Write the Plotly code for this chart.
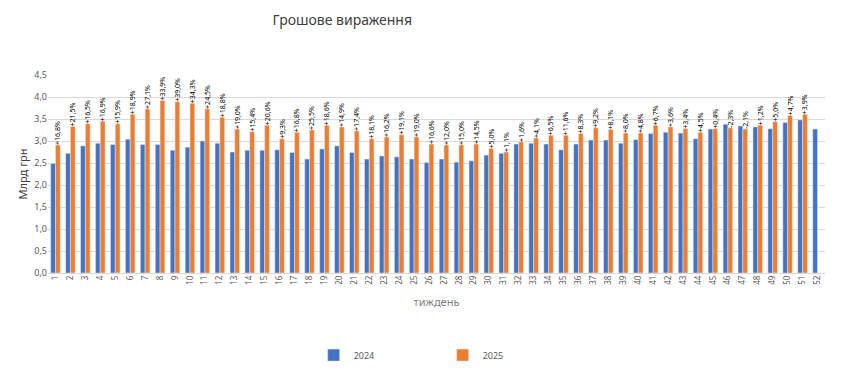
import plotly.graph_objects as go

weeks = [str(i) for i in range(1, 53)]

values_2024 = [2.49, 2.72, 2.89, 2.95, 2.92, 3.04, 2.92, 2.92, 2.79, 2.86,
               3.00, 2.95, 2.75, 2.79, 2.79, 2.80, 2.74, 2.59, 2.82, 2.89,
               2.74, 2.59, 2.66, 2.64, 2.59, 2.51, 2.59, 2.52, 2.55, 2.68,
               2.72, 2.93, 2.95, 2.93, 2.80, 2.93, 3.02, 3.02, 2.95, 3.03,
               3.17, 3.20, 3.18, 3.05, 3.27, 3.38, 3.34, 3.32, 3.28, 3.42,
               3.48, 3.27]

values_2025 = [2.91, 3.33, 3.39, 3.45, 3.39, 3.61, 3.73, 3.92, 3.89, 3.86,
               3.73, 3.54, 3.27, 3.21, 3.36, 3.05, 3.20, 3.25, 3.36, 3.32,
               3.23, 3.05, 3.09, 3.14, 3.09, 2.93, 2.91, 2.91, 2.93, 2.83,
               2.75, 2.98, 3.07, 3.13, 3.13, 3.17, 3.30, 3.26, 3.18, 3.18,
               3.36, 3.32, 3.28, 3.20, 3.28, 3.30, 3.27, 3.36, 3.44, 3.58,
               3.61, None]

change_labels = ["+16,8%", "+21,5%", "+16,5%", "+16,9%", "+15,9%", "+18,9%", "+27,1%",
                 "+33,9%", "+39,0%", "+34,3%", "+24,5%", "+18,8%", "+19,0%", "+15,4%",
                 "+20,6%", "+9,3%", "+16,8%", "+25,5%", "+18,6%", "+14,9%", "+17,4%",
                 "+18,1%", "+16,2%", "+19,1%", "+19,0%", "+16,6%", "+12,0%", "+15,0%",
                 "+14,5%", "+5,0%", "+1,1%", "+1,6%", "+4,1%", "+6,5%", "+11,6%",
                 "+8,3%", "+9,2%", "+8,1%", "+8,0%", "+4,8%", "+6,7%", "+3,6%",
                 "+3,4%", "+4,5%", "+0,4%", "-2,3%", "-2,1%", "+1,2%", "+5,0%",
                 "+4,7%", "+3,9%", ""]

FONT = "Noto Sans"

fig = go.Figure()
fig.add_trace(go.Bar(
    x=weeks, y=values_2024, name="2024",
    marker=dict(color="#4472C4"),
))
fig.add_trace(go.Bar(
    x=weeks, y=values_2025, name="2025",
    marker=dict(color="#ED7D31"),
    text=change_labels, textposition="outside", textangle=-90,
    constraintext="none", cliponaxis=False,
    textfont=dict(size=7, color="#000000", family=FONT),
))

fig.update_layout(
    width=842, height=365,
    margin=dict(l=40, r=25, t=67, b=100, autoexpand=False),
    paper_bgcolor="white", plot_bgcolor="white",
    separators=", ",
    barmode="group", bargap=0.36, bargroupgap=0.0,
    font=dict(family=FONT, color="#595959"),
    title=dict(text="Грошове вираження", x=0.397, xanchor="center",
               y=0.968, yanchor="middle", xref="container", yref="container",
               font=dict(size=14, color="#404040", family=FONT)),
    legend=dict(orientation="h", xref="container", yref="container",
                x=0.363, xanchor="left", y=0.049, yanchor="middle",
                font=dict(size=9, color="#595959"), entrywidth=84,
                itemwidth=30, traceorder="normal"),
    xaxis=dict(type="category", tickangle=-90, tickfont=dict(size=8, color="#595959"),
               showgrid=False, showline=False, ticks="", automargin=False,
               title=dict(text="тиждень", font=dict(size=11, color="#7f7f7f"), standoff=14)),
    yaxis=dict(range=[0, 4.5], dtick=0.5, tickformat=".1f", automargin=False,
               tickfont=dict(size=9, color="#595959"),
               showgrid=True, gridcolor="#d9d9d9", gridwidth=1,
               zeroline=True, zerolinecolor="#d9d9d9", zerolinewidth=1,
               showline=False, ticks="",
               title=dict(text="Млрд грн", font=dict(size=11, color="#404040"), standoff=4)),
)

fig.write_html("out.html")
